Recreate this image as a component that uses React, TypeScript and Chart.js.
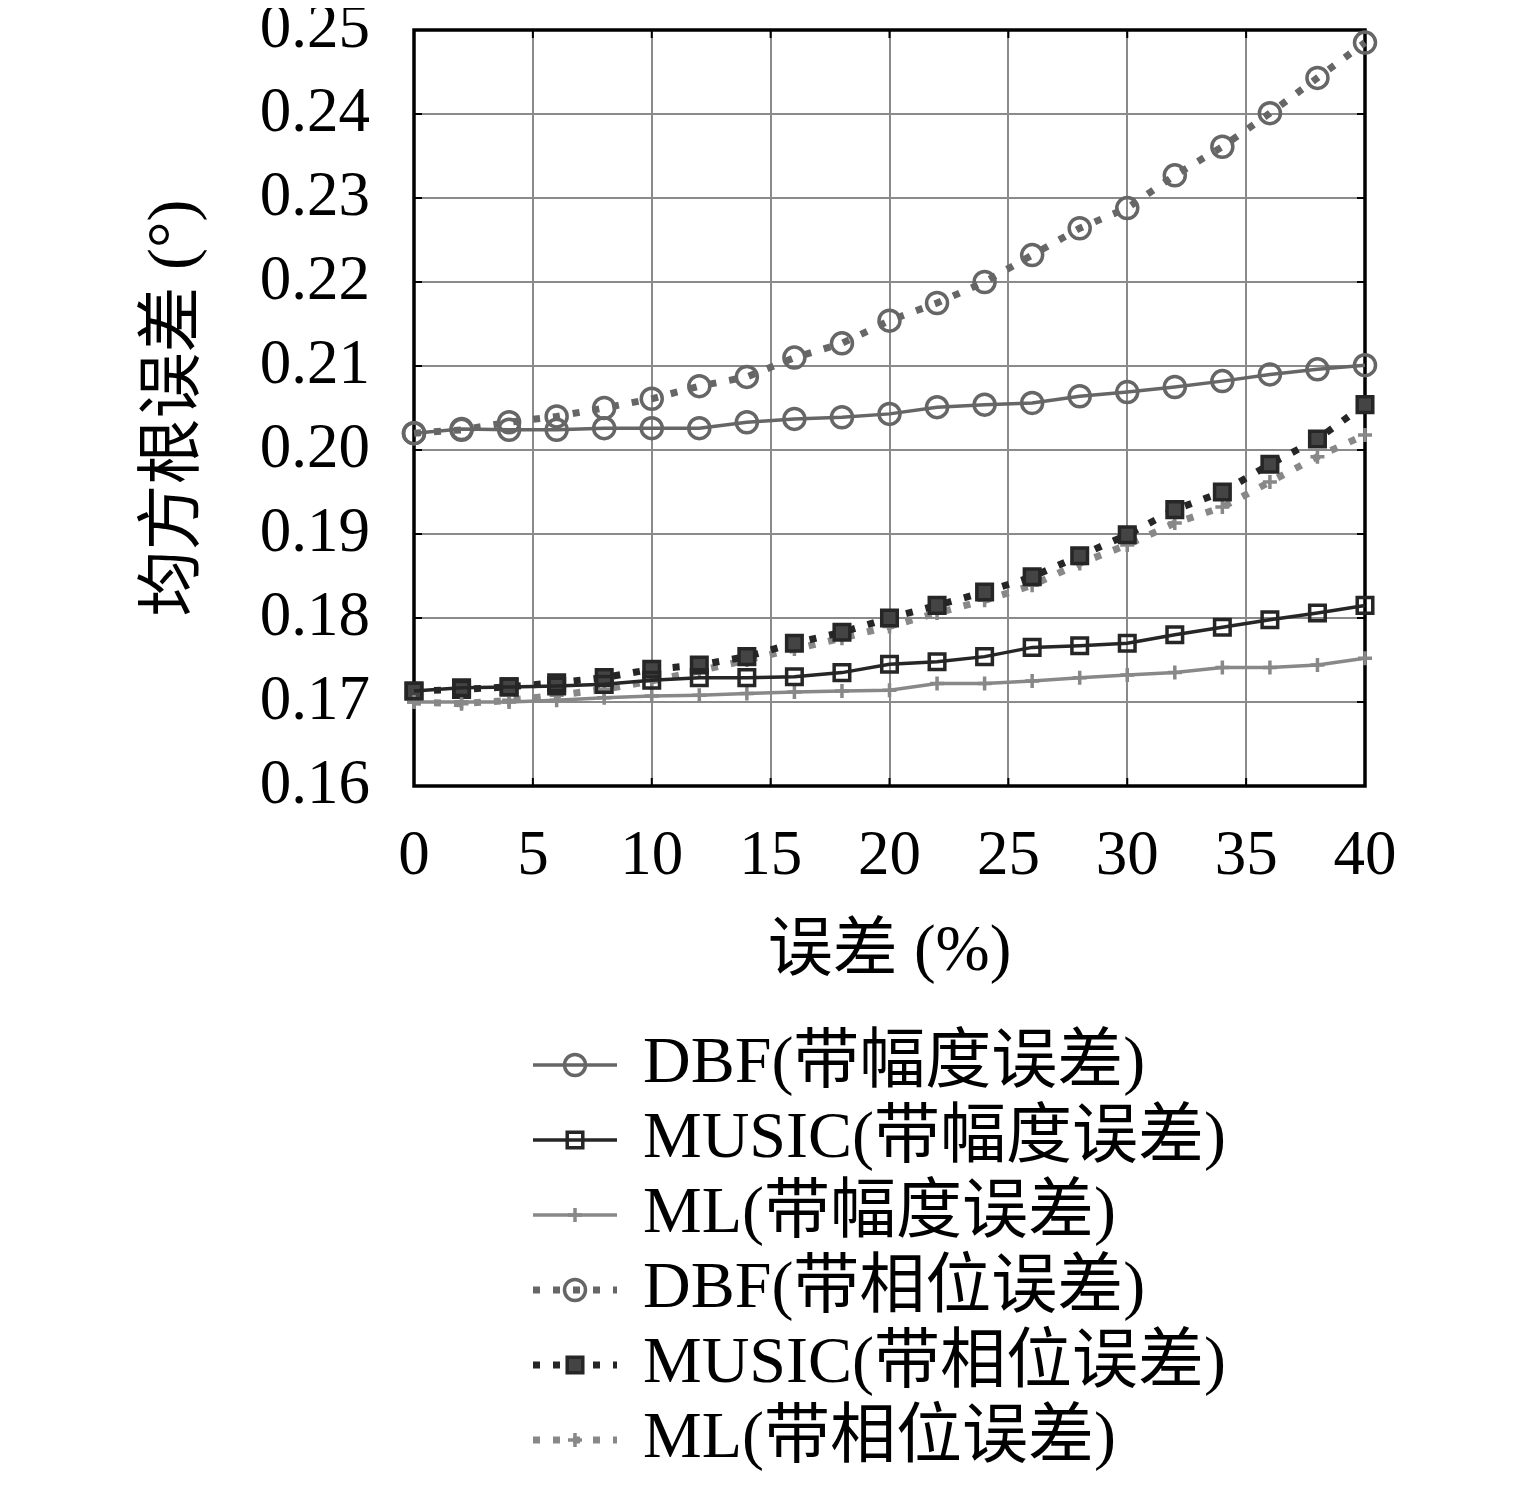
import React, { useEffect, useRef } from 'react';
import { Chart, registerables } from 'chart.js';
import { drawPoint } from 'chart.js/helpers';

Chart.register(...registerables);

// error level (%)
const errorLevels = [0, 2, 4, 6, 8, 10, 12, 14, 16, 18, 20, 22, 24, 26, 28, 30, 32, 34, 36, 38, 40];

// RMSE (deg), amplitude error
const dbfAmp = [0.2020, 0.2025, 0.2024, 0.2024, 0.2026, 0.2026, 0.2026, 0.2033, 0.2037, 0.2039, 0.2043, 0.2051, 0.2054, 0.2056, 0.2064, 0.2069, 0.2075, 0.2082, 0.2090, 0.2096, 0.2101];
const musicAmp = [0.1713, 0.1717, 0.1718, 0.1719, 0.1721, 0.1726, 0.1729, 0.1729, 0.1730, 0.1735, 0.1745, 0.1748, 0.1754, 0.1765, 0.1767, 0.1770, 0.1780, 0.1789, 0.1798, 0.1806, 0.1815];
const mlAmp = [0.1700, 0.1700, 0.1700, 0.1702, 0.1705, 0.1707, 0.1708, 0.1710, 0.1712, 0.1713, 0.1714, 0.1722, 0.1722, 0.1725, 0.1729, 0.1732, 0.1735, 0.1741, 0.1741, 0.1744, 0.1752];

// RMSE (deg), phase error
const dbfPhase = [0.2020, 0.2024, 0.2033, 0.2040, 0.2050, 0.2061, 0.2076, 0.2087, 0.2110, 0.2127, 0.2154, 0.2175, 0.2200, 0.2232, 0.2264, 0.2288, 0.2327, 0.2361, 0.2401, 0.2443, 0.2485];
const musicPhase = [0.1713, 0.1715, 0.1718, 0.1723, 0.1729, 0.1739, 0.1744, 0.1754, 0.1770, 0.1783, 0.1800, 0.1815, 0.1831, 0.1849, 0.1874, 0.1899, 0.1929, 0.1950, 0.1983, 0.2013, 0.2054];
const mlPhase = [0.1700, 0.1698, 0.1702, 0.1708, 0.1715, 0.1725, 0.1737, 0.1750, 0.1763, 0.1776, 0.1790, 0.1806, 0.1821, 0.1839, 0.1865, 0.1887, 0.1913, 0.1932, 0.1962, 0.1992, 0.2018];

const seriesLabels = [
  'DBF(带幅度误差)',
  'MUSIC(带幅度误差)',
  'ML(带幅度误差)',
  'DBF(带相位误差)',
  'MUSIC(带相位误差)',
  'ML(带相位误差)',
];

const FONT = "'Liberation Serif', 'DejaVu Serif', 'Noto Sans CJK SC', serif";
const W = 1535;
const H = 1488;

const toPoints = (ys: number[]) => errorLevels.map((x, i) => ({ x, y: ys[i] }));

// box around the plot + small inward ticks like pgfplots
const framePlugin = {
  id: 'frame',
  beforeDatasetsDraw(chart: any) {
    const { ctx, chartArea: a, scales } = chart;
    ctx.save();
    ctx.strokeStyle = '#000';
    ctx.lineWidth = 2;
    ctx.beginPath();
    scales.x.ticks.forEach((t: any) => {
      const px = scales.x.getPixelForValue(t.value);
      ctx.moveTo(px, a.bottom); ctx.lineTo(px, a.bottom - 8);
      ctx.moveTo(px, a.top); ctx.lineTo(px, a.top + 8);
    });
    scales.y.ticks.forEach((t: any) => {
      const py = scales.y.getPixelForValue(t.value);
      ctx.moveTo(a.left, py); ctx.lineTo(a.left + 8, py);
      ctx.moveTo(a.right, py); ctx.lineTo(a.right - 8, py);
    });
    ctx.stroke();
    ctx.lineWidth = 3.5;
    ctx.strokeRect(a.left, a.top, a.right - a.left, a.bottom - a.top);
    ctx.restore();
  },
};

// legend stacked under the chart
const legendPlugin = {
  id: 'paperLegend',
  afterDraw(chart: any) {
    const ctx = chart.ctx;
    ctx.save();
    chart.data.datasets.forEach((ds: any, i: number) => {
      const y = 1065 + i * 75;
      ctx.strokeStyle = ds.borderColor;
      ctx.lineWidth = ds.borderWidth;
      ctx.lineCap = 'butt';
      ctx.setLineDash(ds.borderDash || []);
      ctx.beginPath();
      ctx.moveTo(533, y);
      ctx.lineTo(617, y);
      ctx.stroke();
      ctx.setLineDash([]);
      ctx.fillStyle = ds.pointBackgroundColor;
      ctx.strokeStyle = ds.pointBorderColor;
      ctx.lineWidth = ds.pointBorderWidth;
      drawPoint(ctx, {
        pointStyle: ds.pointStyle,
        radius: ds.pointRadius,
        rotation: 0,
        borderWidth: ds.pointBorderWidth,
      } as any, 575, y);
      ctx.fillStyle = '#000';
      ctx.font = `66px ${FONT}`;
      ctx.textBaseline = 'middle';
      ctx.textAlign = 'left';
      ctx.fillText(ds.label, 643, y);
    });
    ctx.restore();
  },
};

export default function App() {
  const chartRef = useRef<HTMLCanvasElement | null>(null);

  useEffect(() => {
    if (!chartRef.current) return;

    const solid = (label: string, data: number[], color: string, style: string, r: number) => ({
      label,
      data: toPoints(data),
      borderColor: color,
      borderWidth: 3.5,
      borderDash: [],
      pointStyle: style,
      pointRadius: r,
      pointBorderWidth: 3.5,
      pointBorderColor: color,
      pointBackgroundColor: 'rgba(0,0,0,0)',
      clip: false,
    });
    const dotted = (label: string, data: number[], color: string, style: string, r: number, fill: string) => ({
      label,
      data: toPoints(data),
      borderColor: color,
      borderWidth: 7,
      borderDash: [7, 13],
      borderCapStyle: 'butt',
      pointStyle: style,
      pointRadius: r,
      pointBorderWidth: 3.5,
      pointBorderColor: color,
      pointBackgroundColor: fill,
      clip: false,
    });

    const chartInstance = new Chart(chartRef.current, {
      type: 'line',
      data: {
        datasets: [
          solid(seriesLabels[0], dbfAmp, '#666666', 'circle', 10.5),
          solid(seriesLabels[1], musicAmp, '#262626', 'rect', 11),
          solid(seriesLabels[2], mlAmp, '#888888', 'cross', 7),
          dotted(seriesLabels[3], dbfPhase, '#666666', 'circle', 10.5, 'rgba(0,0,0,0)'),
          dotted(seriesLabels[4], musicPhase, '#262626', 'rect', 11, '#444'),
          dotted(seriesLabels[5], mlPhase, '#888888', 'cross', 7, 'rgba(0,0,0,0)'),
        ] as any,
      },
      options: {
        animation: false,
        responsive: false,
        devicePixelRatio: 1,
        layout: { padding: { left: 0, top: 30, right: 170, bottom: 487 } },
        plugins: {
          legend: { display: false },
          tooltip: { enabled: false },
        },
        scales: {
          x: {
            type: 'linear',
            min: 0,
            max: 40,
            ticks: {
              stepSize: 5,
              padding: 34,
              color: '#000',
              font: { family: FONT, size: 63 },
            },
            grid: { color: '#8a8a8a', lineWidth: 2, drawTicks: false },
            border: { display: false },
            title: {
              display: true,
              text: '误差 (%)',
              color: '#000',
              font: { family: FONT, size: 65 },
              padding: 9,
            },
            afterFit(s: any) {
              s.height = 215;
              s.paddingLeft = 0;
              s.paddingRight = 0;
            },
          },
          y: {
            type: 'linear',
            min: 0.16,
            max: 0.25,
            ticks: {
              stepSize: 0.01,
              padding: 44,
              color: '#000',
              font: { family: FONT, size: 63 },
              callback: (v: any) => Number(v).toFixed(2),
            },
            grid: { color: '#8a8a8a', lineWidth: 2, drawTicks: false },
            border: { display: false },
            title: {
              display: true,
              text: '均方根误差 (°)',
              color: '#000',
              font: { family: FONT, size: 66 },
              padding: 136,
            },
            afterFit(s: any) {
              s.width = 414;
              s.paddingTop = 0;
              s.paddingBottom = 0;
            },
          },
        },
      } as any,
      plugins: [framePlugin, legendPlugin],
    });

    return () => {
      chartInstance.destroy();
    };
  }, []);

  return (
    <div style={{ width: W, height: H, margin: '-8px 0 0 -8px' }}>
      <canvas ref={chartRef} width={W} height={H} style={{ display: 'block', width: W, height: H }} />
    </div>
  );
}
